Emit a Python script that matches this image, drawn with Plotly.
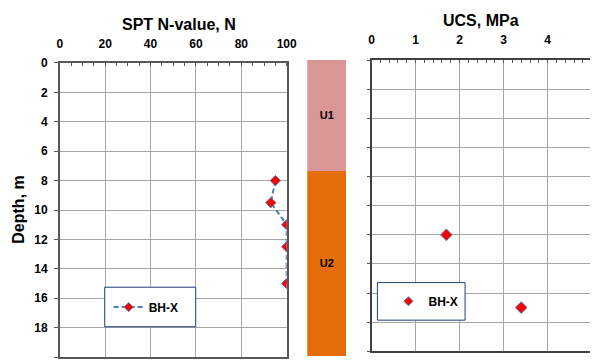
import plotly.graph_objects as go

# ---- data ----
spt_depth = [8, 9.5, 11, 12.5, 15]
spt_n = [95, 93, 100, 100, 100]

ucs_depth = [12, 17]
ucs_mpa = [1.7, 3.4]

units = ["U1", "U2"]
unit_top = [0, 7.5]
unit_bottom = [7.5, 20]
unit_colors = ["#d99694", "#e46c0a"]

spt_ticks = [0, 20, 40, 60, 80, 100]
depth_ticks = [0, 2, 4, 6, 8, 10, 12, 14, 16, 18, 20]
ucs_ticks = [0, 1, 2, 3, 4]

FONT = "Arial, Liberation Sans, sans-serif"
AXC = "#595959"
GRIDC = "#a6a6a6"
LINEC = "#4a7ebb"
W, H = 600, 364


def px(x):
    return x / W


def py(y):
    return (H - y) / H


def b(v):
    return "<b>%s</b>" % v


fig = go.Figure()

# SPT profile
fig.add_trace(go.Scatter(
    x=spt_n, y=spt_depth, mode="lines+markers", name="BH-X",
    line=dict(color=LINEC, width=2, dash="5px,3px"),
    marker=dict(symbol="diamond", size=8, color="#ff0000",
                line=dict(color=LINEC, width=1)),
    xaxis="x", yaxis="y", showlegend=False,
))
# legend entry for SPT (smaller symbol, as in the reference)
fig.add_trace(go.Scatter(
    x=[None], y=[None], mode="lines+markers", name=b("BH-X"),
    line=dict(color=LINEC, width=2, dash="5px,3px"),
    marker=dict(symbol="diamond", size=7, color="#ff0000",
                line=dict(color=LINEC, width=1)),
    xaxis="x", yaxis="y", legend="legend",
))

# strata column
fig.add_trace(go.Bar(
    x=[1] * len(units), y=[bt - t for t, bt in zip(unit_top, unit_bottom)],
    base=unit_top, text=[b(u) for u in units], width=1,
    marker=dict(color=unit_colors, line=dict(width=0)),
    textposition="inside", insidetextanchor="middle", textangle=0,
    textfont=dict(family=FONT, size=11, color="black", weight=700),
    xaxis="x3", yaxis="y3", showlegend=False, hoverinfo="skip",
))

# UCS
fig.add_trace(go.Scatter(
    x=ucs_mpa, y=ucs_depth, mode="markers", name="BH-X",
    marker=dict(symbol="diamond", size=9, color="#ff0000",
                line=dict(color=LINEC, width=1)),
    xaxis="x2", yaxis="y2", showlegend=False,
))
fig.add_trace(go.Scatter(
    x=[None], y=[None], mode="markers", name=b("BH-X"),
    marker=dict(symbol="diamond", size=7, color="#ff0000",
                line=dict(color=LINEC, width=1)),
    xaxis="x2", yaxis="y2", legend="legend2",
))

tickfont = dict(family=FONT, size=12, color="black", weight=700)

fig.update_layout(
    width=W, height=H, margin=dict(l=0, r=0, t=0, b=0),
    paper_bgcolor="white", plot_bgcolor="white",
    font=dict(family=FONT, color="black"),
    bargap=0,
    xaxis=dict(domain=[px(58), px(290)], range=[-0.001, 100.001], side="top",
               anchor="y", tickvals=spt_ticks, ticktext=[b(t) for t in spt_ticks],
               tickfont=tickfont,
               showgrid=True, gridcolor=GRIDC, gridwidth=1,
               showline=True, mirror=True, linecolor=AXC, linewidth=1.5,
               ticks="", ticklabelstandoff=8, zeroline=False,
               minor=dict(dtick=5, ticks="inside", ticklen=3,
                          tickcolor=AXC, showgrid=False)),
    yaxis=dict(domain=[py(357), py(57)], range=[20.001, -0.001], anchor="x",
               tickvals=depth_ticks, ticktext=[b(t) for t in depth_ticks],
               tickfont=tickfont,
               showgrid=True, gridcolor=GRIDC, gridwidth=1,
               showline=True, mirror=True, linecolor=AXC, linewidth=1.5,
               ticks="outside", ticklen=4, tickcolor=AXC,
               ticklabelstandoff=4, zeroline=False),
    xaxis3=dict(domain=[px(311), px(351)], range=[0.5, 1.5], anchor="y3",
                visible=False),
    yaxis3=dict(domain=[py(356), py(54)], range=[20, 0], anchor="x3",
                visible=False),
    xaxis2=dict(domain=[px(376.7), 1], range=[-0.0001, (W - 376.7) / 45],
                side="top", anchor="y2", tickvals=ucs_ticks,
                ticktext=[b(t) for t in ucs_ticks], tickfont=tickfont,
                showgrid=True, gridcolor=GRIDC, gridwidth=1,
                showline=True, mirror=True, linecolor="#404040", linewidth=1.5,
                ticks="", ticklabelstandoff=10, zeroline=False,
                minor=dict(dtick=0.2, ticks="inside", ticklen=3,
                           tickcolor=AXC, showgrid=False)),
    yaxis2=dict(domain=[py(351), py(54.3)], range=[20.001, -0.001], anchor="x2",
                tickvals=depth_ticks, showticklabels=False,
                showgrid=True, gridcolor=GRIDC, gridwidth=1,
                showline=True, mirror=False, linecolor="#404040", linewidth=1.5,
                ticks="outside", ticklen=3, tickcolor=AXC, zeroline=False),
    legend=dict(x=px(108), y=py(306), xanchor="left", yanchor="middle",
                bgcolor="rgba(0,0,0,0)", borderwidth=0,
                font=dict(family=FONT, size=12, color="black", weight=700)),
    legend2=dict(x=px(394), y=py(300), xanchor="left", yanchor="middle",
                 bgcolor="rgba(0,0,0,0)", borderwidth=0,
                 font=dict(family=FONT, size=12, color="black", weight=700)),
    shapes=[
        dict(type="rect", xref="paper", yref="paper",
             x0=px(104), x1=px(197), y0=py(326), y1=py(285.7),
             line=dict(color="#1f3d7a", width=1), fillcolor="white", layer="above"),
        dict(type="rect", xref="paper", yref="paper",
             x0=px(382.7), x1=px(472.3), y0=py(319.3), y1=py(281),
             line=dict(color="#1f3d7a", width=1), fillcolor="white", layer="above"),
    ],
    annotations=[
        dict(text=b("SPT N-value, N"), x=px(180), y=py(18), xref="paper", yref="paper",
             showarrow=False, xanchor="center", yanchor="middle",
             font=dict(family=FONT, size=16, color="black", weight=700)),
        dict(text=b("UCS, MPa"), x=px(489), y=py(14), xref="paper", yref="paper",
             showarrow=False, xanchor="center", yanchor="middle",
             font=dict(family=FONT, size=16, color="black", weight=700)),
        dict(text=b("Depth, m"), x=px(15), y=py(207), xref="paper", yref="paper",
             showarrow=False, textangle=-90, xanchor="center", yanchor="middle",
             font=dict(family=FONT, size=16, color="black", weight=700)),
    ],
)

fig.write_html("out.html")
